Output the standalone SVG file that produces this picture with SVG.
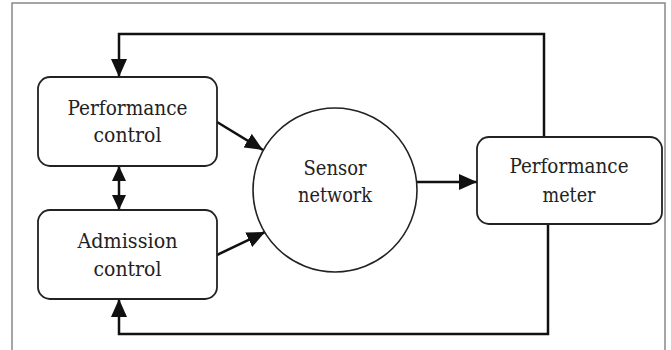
<svg xmlns="http://www.w3.org/2000/svg" width="671" height="350" viewBox="0 0 671 350">
<style>
.box{fill:#fff;stroke:#222;stroke-width:1.8}
.lbl{font-family:'DejaVu Serif Condensed','DejaVu Serif',serif;font-stretch:condensed;font-size:21px;fill:#222;text-anchor:middle}
.con{fill:none;stroke:#111;stroke-width:2.5}
</style>
<defs>
<marker id="ah" markerUnits="userSpaceOnUse" markerWidth="18" markerHeight="16" refX="18" refY="8" orient="auto">
<path d="M0,0 L18,8 L0,16 z" fill="#111"/>
</marker>
<marker id="ahs" markerUnits="userSpaceOnUse" markerWidth="15" markerHeight="14" refX="15" refY="7" orient="auto-start-reverse">
<path d="M0,0 L15,7 L0,14 z" fill="#111"/>
</marker>
</defs>
<rect x="12" y="3" width="653" height="360" fill="#fff" stroke="#888" stroke-width="1.5"/>
<g id="connectors">
<polyline class="con" points="544,137 544,34 119,34 119,77" marker-end="url(#ah)"/>
<polyline class="con" points="548,224 548,334 119,334 119,299" marker-end="url(#ah)"/>
<line class="con" x1="119" y1="166" x2="119" y2="210" marker-start="url(#ahs)" marker-end="url(#ahs)"/>
<line class="con" x1="217" y1="122" x2="263" y2="150" marker-end="url(#ah)"/>
<line class="con" x1="217" y1="255" x2="265" y2="232" marker-end="url(#ah)"/>
<line class="con" x1="417" y1="182" x2="477" y2="182" marker-end="url(#ah)"/>
</g>
<g id="perf-control">
<rect class="box" x="38" y="77" width="179" height="89" rx="12"/>
<text class="lbl" x="127.5" y="115" textLength="120" lengthAdjust="spacingAndGlyphs">Performance</text>
<text class="lbl" x="127.5" y="142" textLength="68" lengthAdjust="spacingAndGlyphs">control</text>
</g>
<g id="admission-control">
<rect class="box" x="38" y="210" width="179" height="89" rx="12"/>
<text class="lbl" x="127.5" y="248" textLength="100" lengthAdjust="spacingAndGlyphs">Admission</text>
<text class="lbl" x="127.5" y="276" textLength="68" lengthAdjust="spacingAndGlyphs">control</text>
</g>
<g id="sensor-network">
<circle cx="335" cy="190" r="82" fill="#fff" stroke="#222" stroke-width="1.6"/>
<text class="lbl" x="335" y="175" textLength="63" lengthAdjust="spacingAndGlyphs">Sensor</text>
<text class="lbl" x="335" y="202" textLength="74" lengthAdjust="spacingAndGlyphs">network</text>
</g>
<g id="perf-meter">
<rect class="box" x="477" y="137" width="185" height="87" rx="12"/>
<text class="lbl" x="569" y="173" textLength="119" lengthAdjust="spacingAndGlyphs">Performance</text>
<text class="lbl" x="569" y="202" textLength="53" lengthAdjust="spacingAndGlyphs">meter</text>
</g>
</svg>
